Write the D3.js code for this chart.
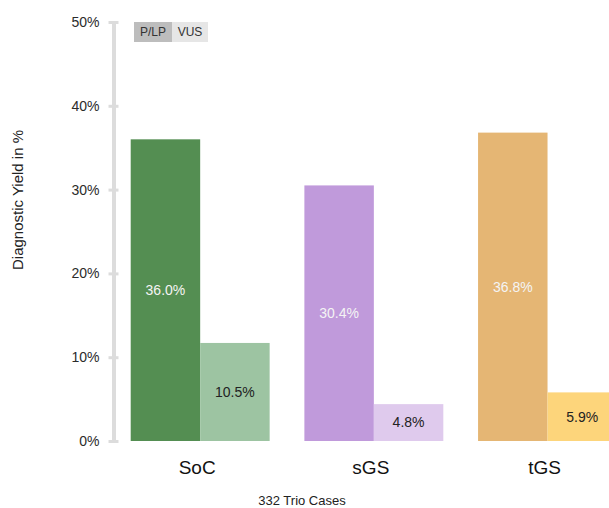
<!DOCTYPE html>
<html>
<head>
<meta charset="utf-8">
<script src="https://cdn.jsdelivr.net/npm/d3@7"></script>
<style>
  body { margin: 0; background: #fff; }
  svg { font-family: "Liberation Sans", Arial, sans-serif; }
</style>
</head>
<body>
<div id="chart"></div>
<script>
// data
const categories = ["SoC", "sGS", "tGS"];
const series = ["P/LP", "VUS"];
const plpValues = [36.0, 30.5, 36.8];
const vusValues = [11.7, 4.4, 5.8];
const plpLabels = ["36.0%", "30.4%", "36.8%"];
const vusLabels = ["10.5%", "4.8%", "5.9%"];
const yTicks = [0, 10, 20, 30, 40, 50];
const plpColors = ["#548e52", "#c09adb", "#e5b674"];
const vusColors = ["#9dc4a2", "#dfcaed", "#fdd57b"];

var w = 609, h = 508;

var svg = d3.select("#chart")
    .append("svg")
    .attr("width", w)
    .attr("height", h);

// scales
var y = d3.scaleLinear()
    .domain([0, 50])
    .range([441, 22]);

var x = d3.scaleBand()
    .domain(categories)
    .range([130.7, 617])
    .paddingInner(0.2)
    .paddingOuter(0);

var xSub = d3.scaleBand()
    .domain(series)
    .range([0, x.bandwidth()]);

// y axis: thick light-grey line with ticks on both sides
var yAxis = d3.axisLeft(y)
    .tickValues(yTicks)
    .tickFormat(d => d + "%")
    .tickSizeOuter(0)
    .tickPadding(8);

var gy = svg.append("g")
    .attr("transform", "translate(113.5,0)")
    .call(yAxis);

gy.select(".domain")
    .attr("stroke", "#dcdcdc")
    .attr("stroke-width", 4);

gy.selectAll(".tick line")
    .attr("x1", -5)
    .attr("x2", 5)
    .attr("stroke", "#dcdcdc")
    .attr("stroke-width", 3);

gy.selectAll(".tick text")
    .attr("fill", "#2b2b2b")
    .style("font-size", "14px");

// y axis title
svg.append("text")
    .attr("transform", "translate(23,200) rotate(-90)")
    .attr("text-anchor", "middle")
    .attr("fill", "#222")
    .style("font-size", "15px")
    .text("Diagnostic Yield in %");

// bars
var rows = categories.map((c, i) => [
    { cat: c, key: "P/LP", v: plpValues[i], label: plpLabels[i], fill: plpColors[i], text: "#f4f4f4" },
    { cat: c, key: "VUS", v: vusValues[i], label: vusLabels[i], fill: vusColors[i], text: "#222" }
]).flat();

var bars = svg.append("g")
    .selectAll("g")
    .data(rows)
    .join("g")
    .attr("transform", d => `translate(${x(d.cat) + xSub(d.key)},0)`);

bars.append("rect")
    .attr("x", 0)
    .attr("y", d => y(d.v))
    .attr("width", xSub.bandwidth())
    .attr("height", d => y(0) - y(d.v))
    .attr("fill", d => d.fill);

bars.append("text")
    .attr("x", xSub.bandwidth() / 2)
    .attr("y", d => (y(d.v) + y(0)) / 2)
    .attr("dy", "0.35em")
    .attr("text-anchor", "middle")
    .attr("fill", d => d.text)
    .style("font-size", "14px")
    .text(d => d.label);

// category labels
svg.append("g")
    .selectAll("text")
    .data(categories)
    .join("text")
    .attr("x", d => x(d) + x.bandwidth() / 2 - 3)
    .attr("y", 474)
    .attr("text-anchor", "middle")
    .attr("fill", "#111")
    .style("font-size", "19px")
    .text(d => d);

svg.append("text")
    .attr("x", 302)
    .attr("y", 505)
    .attr("text-anchor", "middle")
    .attr("fill", "#222")
    .style("font-size", "13px")
    .text("332 Trio Cases");

// legend
var legendColors = ["#bdbdbd", "#e6e6e6"];
var lx = d3.scaleOrdinal().domain(series).range([134, 172]);
var lw = d3.scaleOrdinal().domain(series).range([38, 36]);

var legend = svg.append("g")
    .selectAll("g")
    .data(series)
    .join("g");

legend.append("rect")
    .attr("x", d => lx(d))
    .attr("y", 22)
    .attr("width", d => lw(d))
    .attr("height", 20)
    .attr("fill", (d, i) => legendColors[i]);

legend.append("text")
    .attr("x", d => lx(d) + lw(d) / 2)
    .attr("y", 32)
    .attr("dy", "0.35em")
    .attr("text-anchor", "middle")
    .attr("fill", "#333")
    .style("font-size", "12px")
    .text(d => d);
</script>
</body>
</html>
